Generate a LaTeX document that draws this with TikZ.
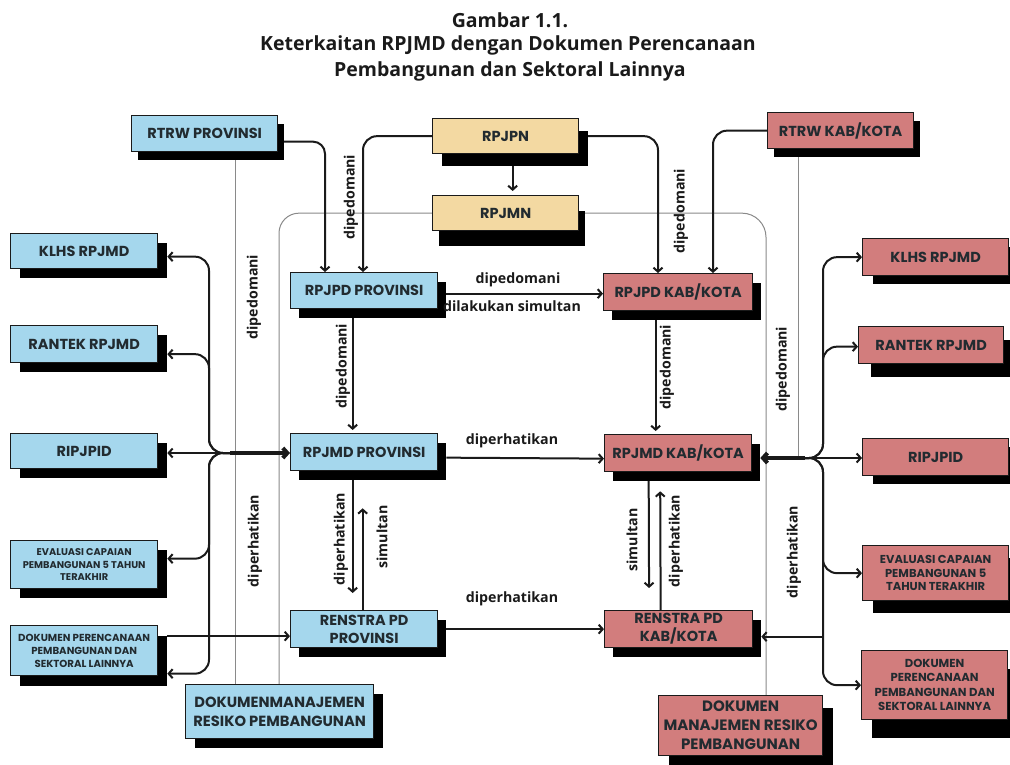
\documentclass[tikz,border=0pt]{standalone}
\usepackage{fontspec}
\setmainfont{Open Sans}
\newfontfamily\bxf{Poppins}
\usetikzlibrary{arrows.meta,shadows,calc}
\pgfdeclarelayer{back}
\pgfsetlayers{back,main}
\definecolor{cblue}{HTML}{A5D7ED}
\definecolor{cred}{HTML}{D27D7D}
\definecolor{cbeige}{HTML}{F3D9A2}
\definecolor{ink}{HTML}{1A1A1A}
\definecolor{txt}{HTML}{222B30}
\definecolor{gline}{HTML}{8A8A8A}
\begin{document}
\begin{tikzpicture}[x=1pt,y=-1pt,
  box/.style={draw=ink, line width=1.3pt, anchor=north west, inner sep=2pt, align=center, text=txt,
    font=\bxf\bfseries\fontsize{14.5}{18}\selectfont},
  sh/.style 2 args={general shadow={fill=black, shadow xshift=#1pt, shadow yshift=-#2pt}},
  bl/.style={box, fill=cblue},
  rd/.style={box, fill=cred},
  be/.style={box, fill=cbeige},
  con/.style={draw=ink, line width=2pt, -{Straight Barb[length=4pt,width=9pt]}},
  thk/.style={draw=ink, line width=4pt, -{Straight Barb[length=4.5pt,width=10pt]}},
  gl/.style={draw=gline, line width=1pt},
  lab/.style={font=\bfseries\fontsize{14.2}{16}\selectfont, text=ink, inner sep=0pt},
  ttl/.style={font=\bfseries\fontsize{19.5}{22}\selectfont, text=ink, inner sep=0pt},
]
\useasboundingbox (0,0) rectangle (1010,764);

% title
\node[ttl] (t1) at (510,20) {Gambar 1.1.};
\node[ttl] (t2) at (508,45) {Keterkaitan RPJMD dengan Dokumen Perencanaan};
\node[ttl] (t3) at (510,71) {Pembangunan dan Sektoral Lainnya};

% top
\node[bl, sh={6}{8}, minimum width=146pt, minimum height=36pt] (rtrwp) at (131,115) {RTRW PROVINSI};
\node[be, sh={9}{12}, minimum width=146pt, minimum height=35pt] (rpjpn) at (432,118) {RPJPN};
\node[be, sh={6}{15}, minimum width=146pt, minimum height=35pt] (rpjmn) at (432,195) {RPJMN};
\node[rd, sh={6}{8}, minimum width=146pt, minimum height=36pt] (rtrwk) at (767,112) {RTRW KAB/KOTA};

% left column
\node[bl, sh={9}{9}, minimum width=147pt, minimum height=35pt] (lklhs) at (10,233) {KLHS RPJMD};
\node[bl, sh={9}{9}, minimum width=147pt, minimum height=37pt] (lrantek) at (10,325) {RANTEK RPJMD};
\node[bl, sh={9}{9}, minimum width=147pt, minimum height=35pt] (lripjpid) at (10,433) {RIPJPID};
\node[bl, sh={9}{9}, minimum width=147pt, minimum height=48pt, font=\bxf\bfseries\fontsize{9.8}{12.5}\selectfont] (leval) at (10,540) {EVALUASI CAPAIAN\\PEMBANGUNAN 5 TAHUN\\TERAKHIR};
\node[bl, sh={9}{10}, minimum width=147pt, minimum height=50pt, font=\bxf\bfseries\fontsize{10.2}{13}\selectfont] (ldok) at (10,625) {DOKUMEN PERENCANAAN\\PEMBANGUNAN DAN\\SEKTORAL LAINNYA};
\node[bl, sh={9}{9}, minimum width=188pt, minimum height=54pt, font=\bxf\bfseries\fontsize{14.7}{18.5}\selectfont] (ldmr) at (185,684) {DOKUMENMANAJEMEN\\RESIKO PEMBANGUNAN};

% center
\node[bl, sh={8}{9}, minimum width=147pt, minimum height=36pt] (rpjpdp) at (290,272) {RPJPD PROVINSI};
\node[bl, sh={8}{9}, minimum width=147pt, minimum height=37pt] (rpjmdp) at (290,433) {RPJMD PROVINSI};
\node[bl, sh={8}{9}, minimum width=147pt, minimum height=37pt] (renp) at (290,610) {RENSTRA PD\\PROVINSI};
\node[rd, sh={8}{9}, minimum width=149pt, minimum height=37pt] (rpjpdk) at (603,273) {RPJPD KAB/KOTA};
\node[rd, sh={8}{9}, minimum width=147pt, minimum height=37pt] (rpjmdk) at (604,434) {RPJMD KAB/KOTA};
\node[rd, sh={8}{9}, minimum width=148pt, minimum height=37pt] (renk) at (604,610) {RENSTRA PD\\KAB/KOTA};

% right column
\node[rd, sh={10}{8}, minimum width=146pt, minimum height=37pt] (rklhs) at (862,238) {KLHS RPJMD};
\node[rd, sh={12}{13}, minimum width=145pt, minimum height=37pt] (rrantek) at (858,326) {RANTEK RPJMD};
\node[rd, sh={10}{8}, minimum width=146pt, minimum height=37pt] (rripjpid) at (862,438) {RIPJPID};
\node[rd, sh={10}{12}, minimum width=146pt, minimum height=55pt, font=\bxf\bfseries\fontsize{11.5}{13.5}\selectfont] (reval) at (862,545) {EVALUASI CAPAIAN\\PEMBANGUNAN 5\\TAHUN TERAKHIR};
\node[rd, sh={10}{18}, minimum width=146pt, minimum height=69pt, font=\bxf\bfseries\fontsize{11.6}{14.5}\selectfont] (rdok) at (861,650) {DOKUMEN\\PERENCANAAN\\PEMBANGUNAN DAN\\SEKTORAL LAINNYA};
\node[rd, sh={10}{12}, minimum width=164pt, minimum height=60pt, font=\bxf\bfseries\fontsize{15}{19}\selectfont] (rdmr) at (658,695) {DOKUMEN\\MANAJEMEN RESIKO\\PEMBANGUNAN};

% junctions
\coordinate (J) at (230,453);
\coordinate (K) at (805,458);
\coordinate (kl) at ([yshift=-7pt]renp.west);
\coordinate (kr) at ([xshift=8pt,yshift=-7.5pt]renk.east);

% labels
\node[lab, rotate=90] (l1) at (254,297) {dipedomani};
\node[lab, rotate=90] (l2) at (255,541) {diperhatikan};
\node[lab, rotate=90] (l3) at (351,197) {dipedomani};
\node[lab, rotate=90] (l4) at (681,211) {dipedomani};
\node[lab] (l5) at (518,280) {dipedomani};
\node[lab] (l6) at (512,306) {dilakukan simultan};
\node[lab, rotate=90] (l7) at (343,366) {dipedomani};
\node[lab, rotate=90] (l8) at (667,367) {dipedomani};
\node[lab] (l9) at (512,441) {diperhatikan};
\node[lab, rotate=90] (l10) at (341,539) {diperhatikan};
\node[lab, rotate=90] (l11) at (382,537) {simultan};
\node[lab, rotate=90] (l12) at (632,540) {simultan};
\node[lab, rotate=90] (l13) at (676,541) {diperhatikan};
\node[lab] (l14) at (512,599) {diperhatikan};
\node[lab, rotate=90] (l15) at (783,369) {dipedomani};
\node[lab, rotate=90] (l16) at (794,552) {diperhatikan};

\begin{pgfonlayer}{back}
\fill[white] (0,0) rectangle (1010,764);
% gray lines
\draw[gl] ([xshift=50pt]ldmr.north west) -- ([xshift=50pt]ldmr.north west |- rtrwp.south);
\draw[gl, rounded corners=20pt] ([xshift=94pt]ldmr.north west) |- (rpjmn.west);
\draw[gl, rounded corners=24pt] (rpjmn.east) -| ([xshift=108pt]rdmr.north west);
\draw[gl] ([xshift=31pt]rtrwk.south west) -- ([xshift=31pt]rtrwk.south west |- K);

% top arrows
\draw[con, rounded corners=12pt] ([yshift=-8pt]rtrwp.east) -| ([xshift=35pt]rpjpdp.north west);
\draw[con, rounded corners=14pt] (rpjpn.west) -| ([xshift=73pt]rpjpdp.north west);
\draw[con, rounded corners=14pt] (rpjpn.east) -| ([xshift=55pt]rpjpdk.north west);
\draw[con, rounded corners=14pt] (rtrwk.west) -| ([xshift=110pt]rpjpdk.north west);
\draw[con, shorten >=4pt] ([xshift=7pt]rpjpn.south) -- ([xshift=7pt]rpjmn.north);

% center arrows
\draw[con] ([xshift=8pt,yshift=-3pt]rpjpdp.east) -- ([yshift=-1.5pt]rpjpdk.west);
\draw[con, shorten >=3pt] ([xshift=-11.5pt]rpjpdp.south) -- ([xshift=-11.5pt]rpjmdp.north);
\draw[con, shorten >=3pt] ([xshift=-22.5pt]rpjpdk.south) -- ([xshift=-22.5pt]rpjmdk.north);
\draw[con] ([xshift=8pt,yshift=-5.5pt]rpjmdp.east) -- ([yshift=-5.5pt]rpjmdk.west);
\draw[con, shorten >=17pt] ([xshift=-11.5pt]rpjmdp.south) -- ([xshift=-11.5pt]renp.north);
\draw[con, shorten >=37pt] ([xshift=-1.5pt]renp.north) -- ([xshift=-1.5pt]rpjmdp.south);
\draw[con, shorten >=22pt] ([xshift=-29.5pt]rpjmdk.south) -- ([xshift=-29.5pt]renk.north);
\draw[con, shorten >=19pt] ([xshift=-18pt]renk.north) -- ([xshift=-18pt]rpjmdk.south);
\draw[con] ([xshift=8pt]renp.east) -- (renk.west);

% left fan
\draw[con, rounded corners=14pt] (J) -- ++(-21,0) |- ([xshift=9pt,yshift=-5.5pt]lklhs.east);
\draw[con, rounded corners=14pt] (J) -- ++(-21,0) |- ([xshift=9pt,yshift=-10pt]lrantek.east);
\draw[con] (J) -- ([xshift=9pt]lripjpid.east |- J);
\draw[con, rounded corners=14pt] (J) -- ++(-21,0) |- ([xshift=9pt,yshift=6pt]leval.east);
\draw[con, rounded corners=14pt] (J) -- ++(-21,0) |- ([xshift=9pt,yshift=-23pt]ldok.east);
\draw[thk] (J) -- (rpjmdp.west |- J);
\draw[con] ([xshift=9pt]ldok.east |- kl) -- (kl);

% right fan
\draw[con, rounded corners=14pt] (K) -- ++(18,0) |- (rklhs.west);
\draw[con, rounded corners=14pt] (K) -- ++(18,0) |- ([yshift=-1.5pt]rrantek.west);
\draw[con] (K) -- (rripjpid.west |- K);
\draw[con, rounded corners=14pt] (K) -- ++(18,0) |- (reval.west);
\draw[con, rounded corners=14pt] (K) -- ++(18,0) |- (rdok.west);
\draw[thk] (K) -- ([xshift=8pt]rpjmdk.east |- K);
\draw[con] ([xshift=18pt]K |- kr) -- (kr);
\end{pgfonlayer}
\end{tikzpicture}
\end{document}
